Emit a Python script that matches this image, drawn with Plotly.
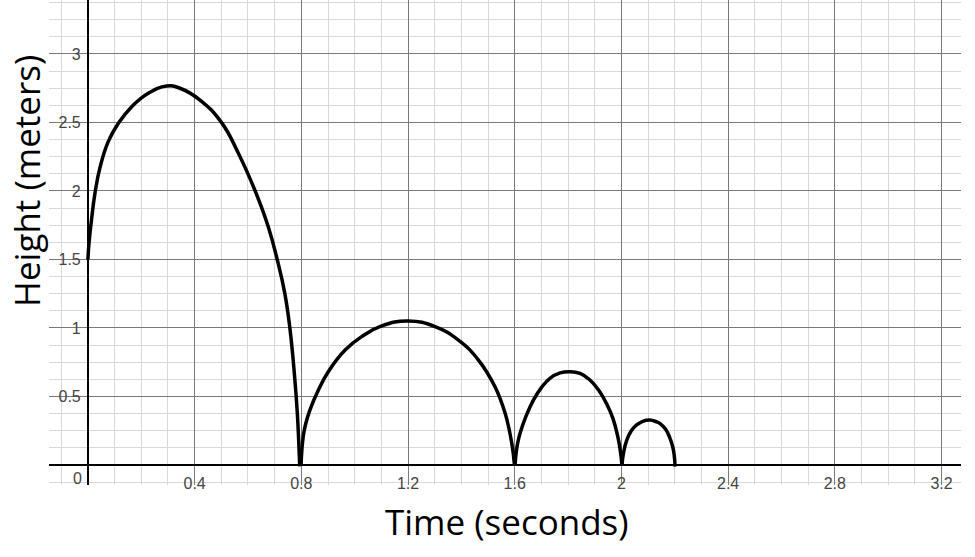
import plotly.graph_objects as go

# Bounce arcs (time in s, height in m)
arc1_t = [0.0, 0.004, 0.014, 0.026, 0.045, 0.076, 0.114, 0.164, 0.226, 0.295, 0.345, 0.42, 0.501, 0.564, 0.628, 0.676, 0.710, 0.738, 0.757, 0.775, 0.785, 0.791, 0.794]
arc1_h = [1.5, 1.62, 1.80, 1.98, 2.17, 2.36, 2.494, 2.615, 2.713, 2.766, 2.75, 2.664, 2.499, 2.275, 1.995, 1.739, 1.496, 1.253, 1.0, 0.64, 0.377, 0.134, -0.01]

arc2_t = [0.799, 0.802, 0.807, 0.815, 0.832, 0.864, 0.901, 0.964, 1.026, 1.101, 1.201, 1.301, 1.389, 1.464, 1.526, 1.564, 1.589, 1.599]
arc2_h = [0.0, 0.11, 0.207, 0.29, 0.401, 0.547, 0.681, 0.839, 0.937, 1.015, 1.051, 1.01, 0.912, 0.766, 0.571, 0.377, 0.158, 0.0]

arc3_t = [1.601, 1.606, 1.611, 1.62, 1.643, 1.67, 1.7, 1.732, 1.77, 1.807, 1.845, 1.882, 1.915, 1.945, 1.968, 1.986, 1.996, 2.002]
arc3_h = [0.0, 0.1, 0.16, 0.231, 0.36, 0.474, 0.565, 0.633, 0.672, 0.681, 0.668, 0.62, 0.545, 0.445, 0.34, 0.21, 0.1, 0.0]

arc4_t = [2.002, 2.008, 2.02, 2.037, 2.057, 2.08, 2.105, 2.132, 2.145, 2.165, 2.18, 2.192, 2.198, 2.201]
arc4_h = [0.0, 0.09, 0.182, 0.25, 0.292, 0.318, 0.328, 0.315, 0.302, 0.262, 0.205, 0.135, 0.07, -0.012]

x_tick_vals = [0.4, 0.8, 1.2, 1.6, 2.0, 2.4, 2.8, 3.2]
x_tick_text = ["0.4", "0.8", "1.2", "1.6", "2", "2.4", "2.8", "3.2"]
y_tick_vals = [0.5, 1.0, 1.5, 2.0, 2.5, 3.0]
y_tick_text = ["0.5", "1", "1.5", "2", "2.5", "3"]
origin_label = "0"

x_title = "Time (seconds)"
y_title = "Height (meters)"

x_range = [-0.146, 3.273]
y_range = [-0.146, 3.394]

fig = go.Figure()
for t, h in [(arc1_t, arc1_h), (arc2_t, arc2_h), (arc3_t, arc3_h), (arc4_t, arc4_h)]:
    fig.add_trace(go.Scatter(
        x=t, y=h, mode="lines",
        line=dict(color="black", width=3.5, shape="spline", smoothing=1.3),
        hoverinfo="skip", showlegend=False,
    ))

tick_font = dict(family="Liberation Sans, Arial, sans-serif", size=16, color="#444444")
minor_col = "#d9d9d9"
major_col = "#7a7a7a"

fig.update_layout(
    width=975, height=557,
    margin=dict(l=49, r=14, t=0, b=72),
    paper_bgcolor="white", plot_bgcolor="white",
    showlegend=False,
    xaxis=dict(
        range=x_range, tickmode="array", tickvals=x_tick_vals, ticktext=x_tick_text,
        showgrid=True, gridcolor=major_col, gridwidth=1,
        zeroline=True, zerolinecolor="black", zerolinewidth=2,
        anchor="free", position=(0 - y_range[0]) / (y_range[1] - y_range[0]),
        ticks="outside", ticklen=4, tickcolor="rgba(0,0,0,0)",
        tickfont=tick_font, showline=False, automargin=False,
        minor=dict(tickmode="linear", tick0=0, dtick=0.1, showgrid=True,
                   gridcolor=minor_col, gridwidth=1),
    ),
    yaxis=dict(
        range=y_range, tickmode="array", tickvals=y_tick_vals, ticktext=y_tick_text,
        showgrid=True, gridcolor=major_col, gridwidth=1,
        zeroline=True, zerolinecolor="black", zerolinewidth=2,
        anchor="free", position=(0 - x_range[0]) / (x_range[1] - x_range[0]),
        ticks="outside", ticklen=4, tickcolor="rgba(0,0,0,0)",
        tickfont=tick_font, showline=False, automargin=False,
        minor=dict(tickmode="linear", tick0=0, dtick=0.125, showgrid=True,
                   gridcolor=minor_col, gridwidth=1),
    ),
    annotations=[
        dict(text=origin_label, x=0, y=0, xref="x", yref="y", showarrow=False,
             xanchor="right", yanchor="top", xshift=-4, yshift=-3, font=tick_font),
        dict(text=x_title, x=0.502, y=0, xref="paper", yref="paper", showarrow=False,
             xanchor="center", yanchor="middle", yshift=-36,
             font=dict(family="Open Sans, sans-serif", size=35, color="black")),
        dict(text=y_title, x=0, y=0.627, xref="paper", yref="paper", showarrow=False,
             xanchor="center", yanchor="middle", xshift=-22, textangle=-90,
             font=dict(family="Open Sans, sans-serif", size=35, color="black")),
    ],
)

fig.write_html("out.html", config={"displayModeBar": False},
               post_script="document.body.style.margin='0px';")
